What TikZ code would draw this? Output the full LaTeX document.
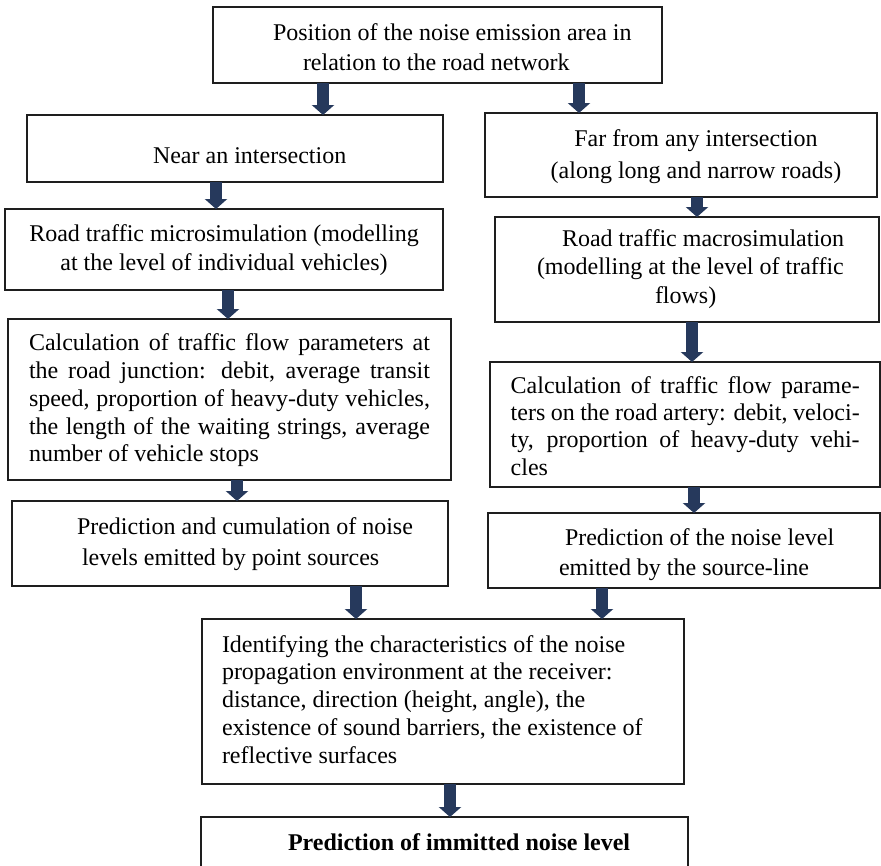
\documentclass[tikz,border=0pt]{standalone}
\usepackage{fontspec}
\setmainfont{Liberation Serif}
\usetikzlibrary{arrows.meta}
\definecolor{navy}{RGB}{38,57,92}
\definecolor{edge}{RGB}{30,30,30}
\begin{document}
\begin{tikzpicture}[x=1pt,y=-1pt,
  flowbox/.style={draw=edge, line width=1.6pt, inner sep=0pt, outer sep=0pt, fill=white},
  blockarrow/.style={draw=navy, line width=12pt, -{Triangle[width=22pt,length=10pt]}},
  txt/.style={inner sep=0pt, outer sep=0pt, anchor=base west, align=left, text=black},
  ctxt/.style={inner sep=0pt, outer sep=0pt, anchor=base, align=center, text=black},
]
\clip (0,0) rectangle (881,865);
% boxes
\node[flowbox, minimum width=449pt, minimum height=76pt] (top) at (437.5,45) {};
\node[flowbox, minimum width=416pt, minimum height=67pt] (near) at (235,148.5) {};
\node[flowbox, minimum width=438pt, minimum height=81pt] (micro) at (224,249.5) {};
\node[flowbox, minimum width=443pt, minimum height=161pt] (calcL) at (229.5,399.5) {};
\node[flowbox, minimum width=436pt, minimum height=85pt] (predL) at (230,543.5) {};
\node[flowbox, minimum width=392pt, minimum height=84pt] (far) at (681,155) {};
\node[flowbox, minimum width=384pt, minimum height=105pt] (macro) at (687,269.5) {};
\node[flowbox, minimum width=390pt, minimum height=125pt] (calcR) at (685,424.5) {};
\node[flowbox, minimum width=392pt, minimum height=75pt] (predR) at (684,550.5) {};
\node[flowbox, minimum width=482pt, minimum height=165pt] (ident) at (443,701.5) {};
\node[flowbox, minimum width=487pt, minimum height=83pt] (final) at (444.5,858.5) {};
% texts (multi-line nodes: base anchor = last line's baseline)
\node[txt, font=\fontsize{24}{30.5}\selectfont] (t1) at (273,70.7)
  {Position of the noise emission area in\\\hspace*{30pt}relation to the road network};
\node[txt, font=\fontsize{24}{28}\selectfont] (t2) at (153,163) {Near an intersection};
\node[ctxt, font=\fontsize{24}{28.3}\selectfont] (t3) at (224,270)
  {Road traffic microsimulation (modelling\\at the level of individual vehicles)};
\node[txt, font=\fontsize{24}{27.7}\selectfont] (t4) at (29,461.7)
  {\makebox[401pt][s]{Calculation of traffic flow parameters at}\\
   \makebox[401pt][s]{the road junction: debit, average transit}\\
   \makebox[401pt][s]{speed, proportion of heavy-duty vehicles,}\\
   \makebox[401pt][s]{the length of the waiting strings, average}\\
   number of vehicle stops};
\node[txt, font=\fontsize{24}{31}\selectfont] (t5) at (77,565)
  {Prediction and cumulation of noise\\\hspace*{5pt}levels emitted by point sources};
\node[ctxt, font=\fontsize{24}{31.3}\selectfont] (t6) at (696,178)
  {Far from any intersection\\(along long and narrow roads)};
\node[txt, font=\fontsize{24}{28.2}\selectfont] (t7) at (537,303)
  {\hspace*{25pt}Road traffic macrosimulation\\(modelling at the level of traffic\\\hspace*{118pt}flows)};
\node[txt, font=\fontsize{24}{27.3}\selectfont] (t8) at (510.7,475)
  {\makebox[349pt][s]{Calculation of traffic flow parame-}\\
   \makebox[349pt][s]{ters on the road artery: debit, veloci-}\\
   \makebox[349pt][s]{ty, proportion of heavy-duty vehi-}\\
   cles};
\node[txt, font=\fontsize{24}{30}\selectfont] (t9) at (559,575)
  {\hspace*{6pt}Prediction of the noise level\\emitted by the source-line};
\node[txt, font=\fontsize{24}{27.7}\selectfont] (t10) at (222,763)
  {Identifying the characteristics of the noise\\
   propagation environment at the receiver:\\
   distance, direction (height, angle), the\\
   existence of sound barriers, the existence of\\
   reflective surfaces};
\node[txt, font=\fontsize{24}{28}\selectfont\bfseries] (t11) at (288,850)
  {Prediction of immitted noise level};
% arrows
\draw[blockarrow] (top.south -| 323,0) -- (near.north -| 323,0);
\draw[blockarrow] (top.south -| 579,0) -- (far.north -| 579,0);
\draw[blockarrow] (near.south -| 216,0) -- (micro.north -| 216,0);
\draw[blockarrow] (micro.south -| 228,0) -- (calcL.north -| 228,0);
\draw[blockarrow] (calcL.south -| 237,0) -- (predL.north -| 237,0);
\draw[blockarrow] (predL.south -| 356,0) -- (ident.north -| 356,0);
\draw[blockarrow] (far.south -| 697,0) -- (macro.north -| 697,0);
\draw[blockarrow] (macro.south -| 692,0) -- (calcR.north -| 692,0);
\draw[blockarrow] (calcR.south -| 694,0) -- (predR.north -| 694,0);
\draw[blockarrow] (predR.south -| 602,0) -- (ident.north -| 602,0);
\draw[blockarrow] (ident.south -| 450,0) -- (final.north -| 450,0);
\end{tikzpicture}
\end{document}
